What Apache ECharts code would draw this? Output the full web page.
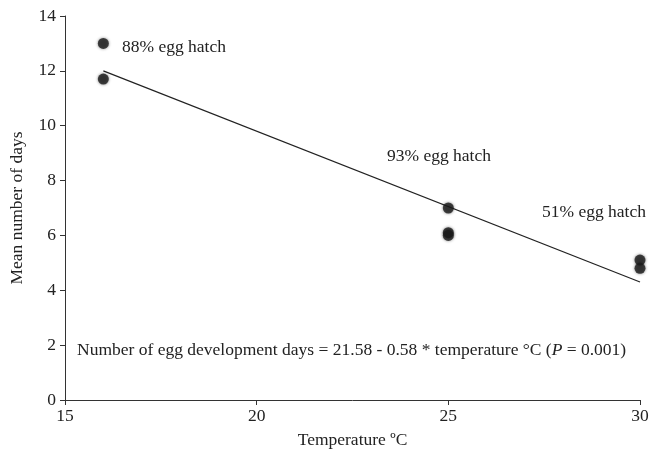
<!DOCTYPE html>
<html>
<head>
<meta charset="utf-8">
<script src="https://cdn.jsdelivr.net/npm/echarts@6/dist/echarts.min.js"></script>
<style>
  html, body { margin: 0; padding: 0; background: #fff; }
  #chart { width: 654px; height: 456px; }
</style>
</head>
<body>
<div id="chart"></div>
<script>
  // 观测点 (温度, 平均天数)
  const temps = [16, 16, 25, 25, 25, 30, 30];
  const days = [13.0, 11.7, 7.0, 6.1, 6.0, 5.1, 4.8];
  // 回归线两端
  const fitTemps = [16, 30];
  const fitDays = [12.0, 4.3];
  const xTicks = [15, 20, 25, 30];
  const hatchLabels = ['88% egg hatch', '93% egg hatch', '51% egg hatch'];
  const equation = 'Number of egg development days = 21.58 - 0.58 * temperature \u00b0C (';

  const font = 'Liberation Serif';
  const fs = 17.5;
  const textColor = '#222';

  const chartObj = echarts.init(document.getElementById('chart'));
  const option = {
    animation: false,
    backgroundColor: '#fff',
    textStyle: { fontFamily: font },
    grid: { left: 65, right: 14, top: 16, bottom: 56 },
    xAxis: {
      type: 'value',
      min: xTicks[0],
      max: xTicks[xTicks.length - 1],
      interval: 5,
      name: 'Temperature \u00baC',
      nameLocation: 'middle',
      nameGap: 31,
      nameTextStyle: { fontFamily: font, fontSize: fs, color: textColor },
      axisLine: { lineStyle: { color: '#333', width: 1 } },
      axisTick: { show: true, length: 5, lineStyle: { color: '#333' } },
      axisLabel: { fontFamily: font, fontSize: fs, color: textColor, margin: 7 },
      splitLine: { show: false }
    },
    yAxis: {
      type: 'value',
      min: 0,
      max: 14,
      interval: 2,
      name: 'Mean number of days',
      nameLocation: 'middle',
      nameGap: 39,
      nameTextStyle: { fontFamily: font, fontSize: fs, color: textColor },
      axisLine: { show: true, lineStyle: { color: '#333', width: 1 } },
      axisTick: { show: true, length: 5, lineStyle: { color: '#333' } },
      axisLabel: { fontFamily: font, fontSize: fs, color: textColor, margin: 9 },
      splitLine: { show: false }
    },
    series: [
      {
        type: 'line',
        data: fitTemps.map((t, i) => [t, fitDays[i]]),
        symbol: 'none',
        lineStyle: { color: '#222', width: 1.2 },
        z: 2
      },
      {
        type: 'scatter',
        data: temps.map((t, i) => [t, days[i]]),
        symbolSize: 11,
        itemStyle: { color: '#1c1c1c', shadowBlur: 3, shadowColor: 'rgba(0,0,0,0.6)' },
        z: 3
      }
    ],
    graphic: [
      { type: 'text', left: 122, top: 38, style: { text: hatchLabels[0], font: fs + 'px ' + font, fill: textColor } },
      { type: 'text', left: 387, top: 147, style: { text: hatchLabels[1], font: fs + 'px ' + font, fill: textColor } },
      { type: 'text', left: 542, top: 203, style: { text: hatchLabels[2], font: fs + 'px ' + font, fill: textColor } },
      {
        type: 'text', left: 77, top: 341,
        style: {
          text: equation + '{i|P} = 0.001)',
          font: fs + 'px ' + font,
          fill: textColor,
          rich: { i: { fontStyle: 'italic', fontFamily: font, fontSize: fs, fill: textColor } }
        }
      }
    ]
  };
  chartObj.setOption(option);
</script>
</body>
</html>
